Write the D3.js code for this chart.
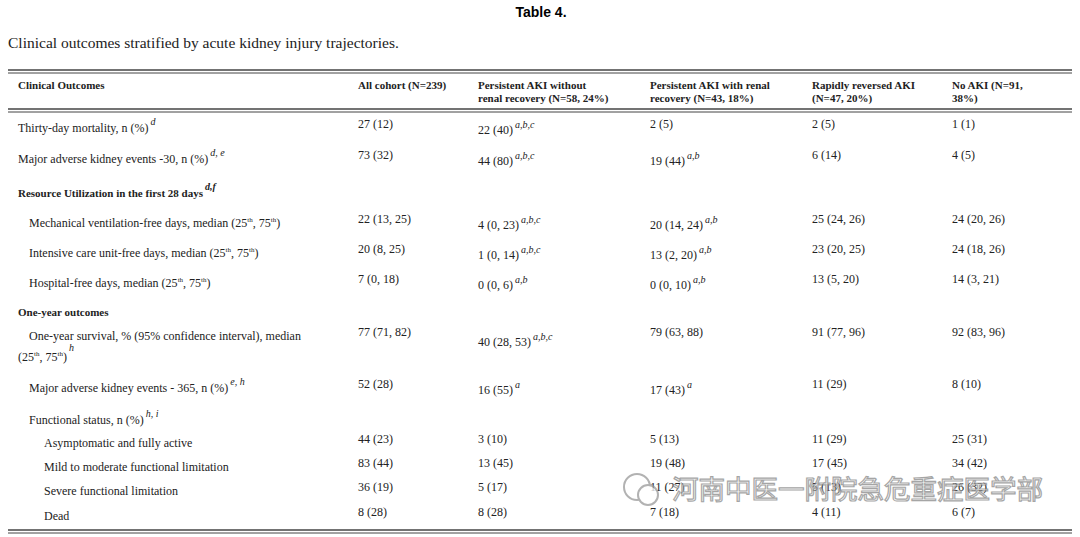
<!DOCTYPE html>
<html><head><meta charset="utf-8">
<script src="https://cdn.jsdelivr.net/npm/d3@7"></script>
<style>body{margin:0;background:#fff}svg{font-family:"Liberation Serif","DejaVu Serif",serif}</style>
</head><body><svg id="c" width="1080" height="537"></svg>
<script>
// Table content
const headers = ["Clinical Outcomes", "All cohort (N=239)", "Persistent AKI without|renal recovery (N=58, 24%)",
  "Persistent AKI with renal|recovery (N=43, 18%)", "Rapidly reversed AKI|(N=47, 20%)", "No AKI (N=91,|38%)"];
// label, indent level, bold, superscript on label
const labels = [
  ["Thirty-day mortality, n (%)", 0, false, "d"],
  ["Major adverse kidney events -30, n (%)", 0, false, "d, e"],
  ["Resource Utilization in the first 28 days", 0, true, "d,f"],
  ["Mechanical ventilation-free days, median (25|th|, 75|th|)", 1, false, ""],
  ["Intensive care unit-free days, median (25|th|, 75|th|)", 1, false, ""],
  ["Hospital-free days, median (25|th|, 75|th|)", 1, false, ""],
  ["One-year outcomes", 0, true, ""],
  ["One-year survival, % (95% confidence interval), median", 1, false, ""],
  ["Major adverse kidney events - 365, n (%)", 1, false, "e, h"],
  ["Functional status, n (%)", 1, false, "h, i"],
  ["Asymptomatic and fully active", 2, false, ""],
  ["Mild to moderate functional limitation", 2, false, ""],
  ["Severe functional limitation", 2, false, ""],
  ["Dead", 2, false, ""]
];
const allCohort = ["27 (12)", "73 (32)", "", "22 (13, 25)", "20 (8, 25)", "7 (0, 18)", "", "77 (71, 82)", "52 (28)", "", "44 (23)", "83 (44)", "36 (19)", "8 (28)"];
const persistNoRec = ["22 (40)^a,b,c", "44 (80)^a,b,c", "", "4 (0, 23)^a,b,c", "1 (0, 14)^a,b,c", "0 (0, 6)^a,b", "", "40 (28, 53)^a,b,c", "16 (55)^a", "", "3 (10)", "13 (45)", "5 (17)", "8 (28)"];
const persistRec = ["2 (5)", "19 (44)^a,b", "", "20 (14, 24)^a,b", "13 (2, 20)^a,b", "0 (0, 10)^a,b", "", "79 (63, 88)", "17 (43)^a", "", "5 (13)", "19 (48)", "11 (27)", "7 (18)"];
const rapidRev = ["2 (5)", "6 (14)", "", "25 (24, 26)", "23 (20, 25)", "13 (5, 20)", "", "91 (77, 96)", "11 (29)", "", "11 (29)", "17 (45)", "5 (13)", "4 (11)"];
const noAki = ["1 (1)", "4 (5)", "", "24 (20, 26)", "24 (18, 26)", "14 (3, 21)", "", "92 (83, 96)", "8 (10)", "", "25 (31)", "34 (42)", "26 (32)", "6 (7)"];
const columns = [allCohort, persistNoRec, persistRec, rapidRev, noAki];

// layout
const svg = d3.select("#c");
const colX = [18, 358, 478, 650, 812, 952];
const rowBase = [132, 163, 197, 227, 257, 287, 316, 340, 392, 424, 447, 471, 495, 520];
const y = i => rowBase[i];

svg.append("text").attr("x", 541).attr("y", 17).attr("text-anchor", "middle")
  .attr("font-family", "Liberation Sans, Arial, sans-serif").attr("font-weight", "bold").attr("font-size", 14).text("Table 4.");
svg.append("text").attr("x", 8).attr("y", 48).attr("font-size", 15.5).attr("fill", "#222")
  .text("Clinical outcomes stratified by acute kidney injury trajectories.");

function dbl(yy) {
  [0, 3].forEach(d => svg.append("line").attr("x1", 8).attr("x2", 1072).attr("y1", yy + d).attr("y2", yy + d)
    .attr("stroke", "#444").attr("stroke-width", d ? 1 : 1.6));
}
dbl(70); dbl(109); dbl(530);

// headers
headers.forEach((h, i) => {
  h.split("|").forEach((line, k) => {
    svg.append("text").attr("x", colX[i]).attr("y", 89 + k * 12.5).attr("font-weight", "bold")
      .attr("font-size", 11).attr("fill", "#222").text(line);
  });
});

// label column with inline superscripts
const indent = [0, 11, 26];
labels.forEach((r, i) => {
  const t = svg.append("text").attr("x", colX[0] + indent[r[1]]).attr("y", y(i))
    .attr("font-size", r[2] ? 11 : 12).attr("font-weight", r[2] ? "bold" : null).attr("fill", "#222");
  r[0].split("|").forEach((part, k) => {
    const s = t.append("tspan").text(part);
    if (k % 2 === 1) s.attr("font-size", 7).attr("dy", -5);
    else if (k > 0) s.attr("dy", 5);
  });
  if (r[3]) t.append("tspan").attr("font-style", "italic").attr("font-size", 10).attr("dy", -7).attr("dx", 2).text(r[3]);
});
// second line of survival label
const t2 = svg.append("text").attr("x", colX[0]).attr("y", 361).attr("font-size", 12).attr("fill", "#222");
t2.append("tspan").text("(25");
t2.append("tspan").attr("font-size", 7).attr("dy", -5).text("th");
t2.append("tspan").attr("dy", 5).text(", 75");
t2.append("tspan").attr("font-size", 7).attr("dy", -5).text("th");
t2.append("tspan").attr("dy", 5).text(")");
t2.append("tspan").attr("font-style", "italic").attr("font-size", 10).attr("dy", -10).attr("dx", 2).text("h");

// value cells
columns.forEach((col, c) => {
  svg.append("g").selectAll("text").data(col).join("text")
    .attr("x", colX[c + 1])
    .attr("y", (d, i) => y(i) - 4 + (d.includes("^") ? 6 : 0) + (i === 7 && d.includes("^") ? 4 : 0))
    .attr("font-size", 12).attr("fill", "#222")
    .each(function (d) {
      const [v, sup] = d.split("^");
      const t = d3.select(this);
      t.append("tspan").text(v);
      if (sup) t.append("tspan").attr("font-style", "italic").attr("font-size", 10).attr("dy", -6).attr("dx", 2).text(sup);
    });
});

// watermark
const wm = svg.append("g").attr("opacity", 0.75);
wm.append("circle").attr("cx", 637).attr("cy", 487).attr("r", 13).attr("fill", "none").attr("stroke", "#999").attr("stroke-width", 2);
wm.append("circle").attr("cx", 648).attr("cy", 495).attr("r", 10).attr("fill", "#fff").attr("stroke", "#999").attr("stroke-width", 2);
wm.append("text").attr("x", 672).attr("y", 499).attr("font-family", "Noto Sans CJK SC").attr("font-size", 26.5)
  .attr("fill", "#fff").attr("stroke", "#888").attr("stroke-width", 1.2).text("河南中医一附院急危重症医学部");
</script></body></html>
